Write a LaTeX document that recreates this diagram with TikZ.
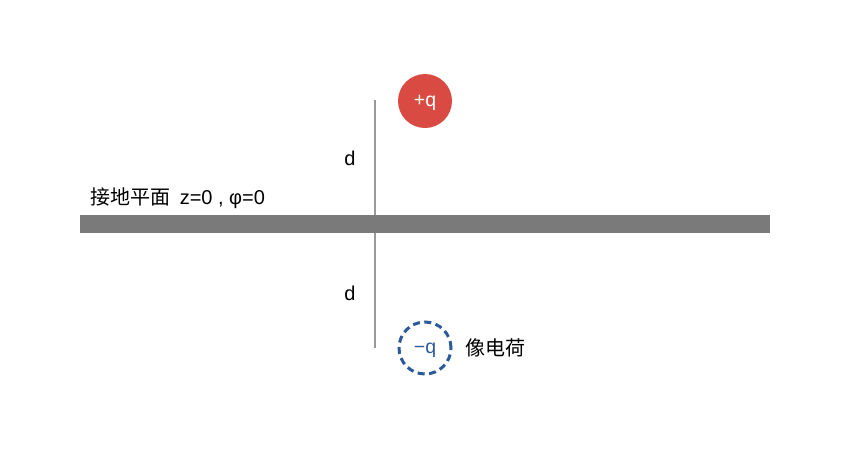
\documentclass[tikz,border=0pt]{standalone}
\usepackage{fontspec}
\setmainfont{Liberation Sans}
\newfontfamily\cjk{Noto Sans CJK SC}
\newcommand{\zh}[1]{{\cjk\fontsize{20}{22}\selectfont #1}}
\definecolor{planegray}{HTML}{7A7A7A}
\definecolor{axisgray}{HTML}{999999}
\definecolor{chargered}{HTML}{D94A42}
\definecolor{imageblue}{HTML}{2B5A9B}
\begin{document}
\begin{tikzpicture}[x=1pt,y=-1pt,
  lbl/.style={font=\fontsize{20}{22}\selectfont, text=black, inner sep=0pt},
  charge/.style={circle, minimum size=54pt, inner sep=0pt, text depth=0pt, font=\fontsize{19.5}{21}\selectfont}]
\useasboundingbox (0,0) rectangle (850,450);
\fill[white] (0,0) rectangle (850,450);
\coordinate (top) at (375,100);
\coordinate (bot) at (375,348);
\draw[axisgray, line width=2pt] (top) -- (bot);
\fill[planegray] (80,215) rectangle (770,233);
\node[charge, fill=chargered, text=white] (pq) at (425,101) {+q};
\node[charge, draw=imageblue, dash pattern=on 7pt off 4.5pt, line width=3pt, text=imageblue, minimum size=52pt] (mq) at (425,348) {−q};
\node[lbl] (d1) at (350,158) {d};
\node[lbl] (d2) at (350,293) {d};
\node[lbl, anchor=west] (plane) at (90,198) {\zh{接地平面}\hspace{4pt} z=0 , φ=0};
\node[lbl, anchor=west] (img) at (465,348) {\zh{像电荷}};
\end{tikzpicture}
\end{document}
